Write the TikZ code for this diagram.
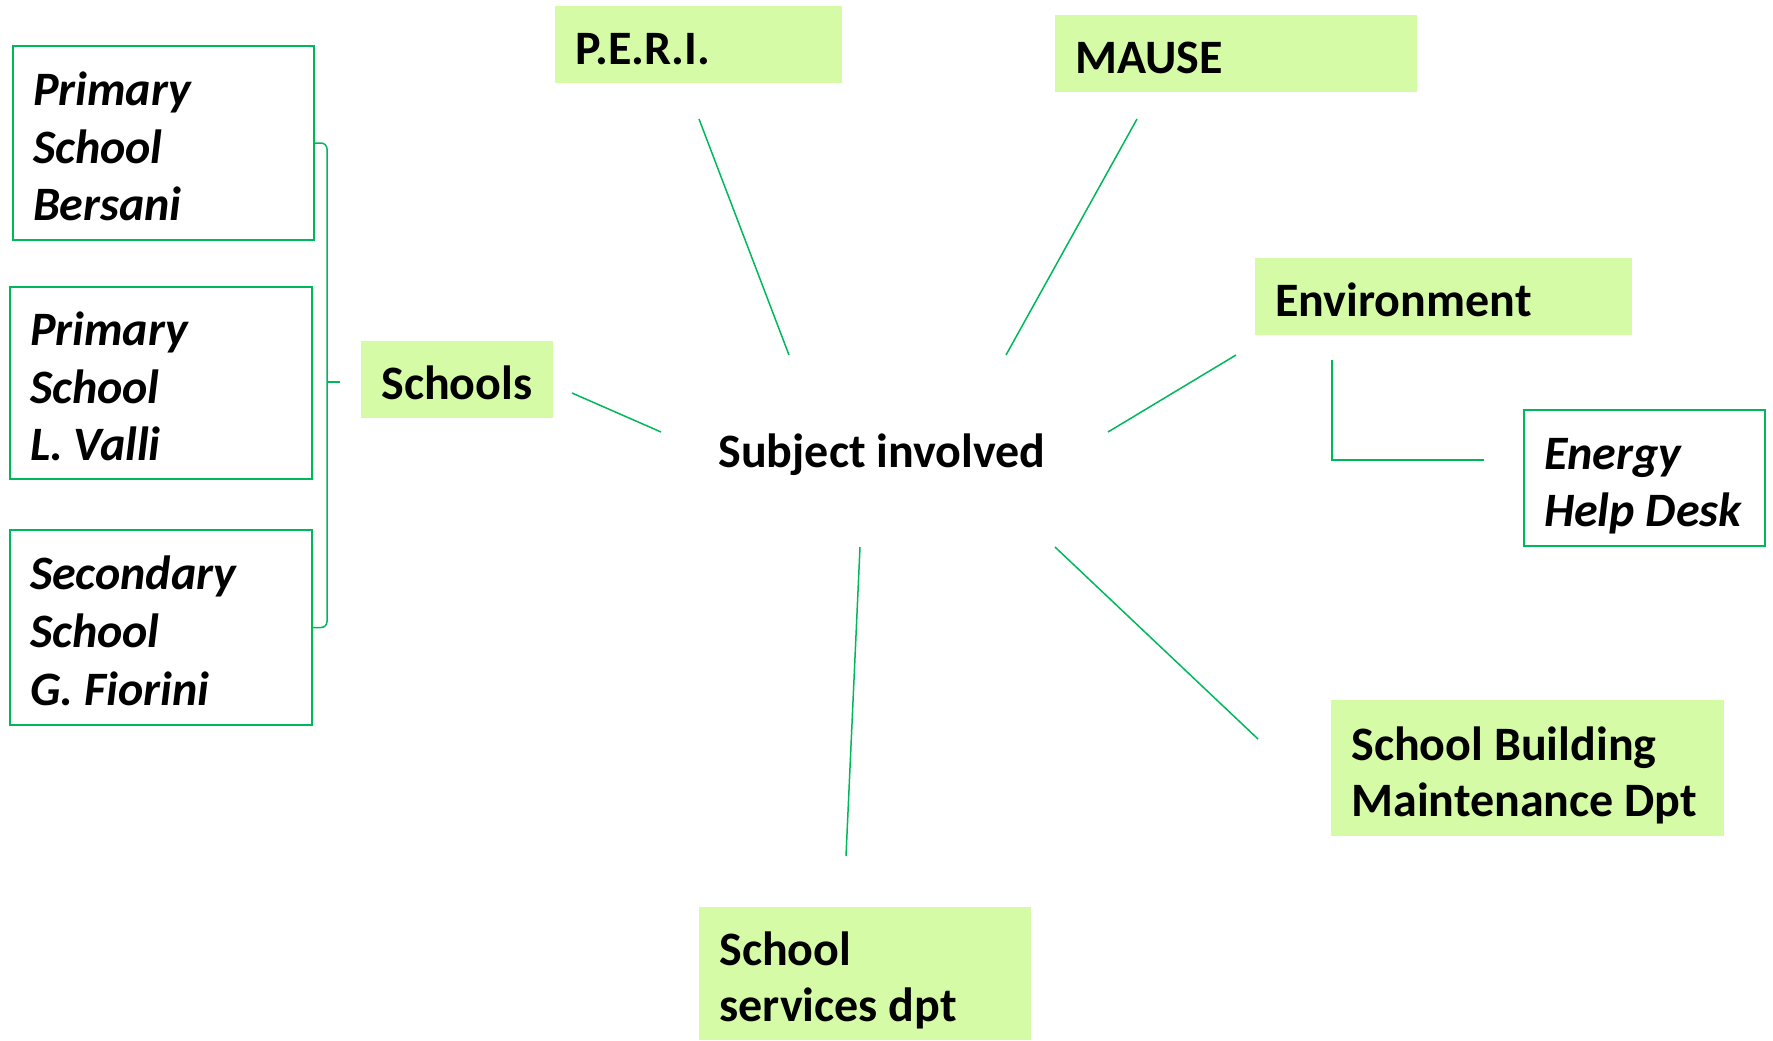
\documentclass[tikz,border=0pt]{standalone}
\usepackage{fontspec}
\setmainfont{Carlito}
\frenchspacing
\definecolor{boxgreen}{RGB}{214,251,167}
\definecolor{linegreen}{RGB}{0,184,92}
\newcommand\topstrut{\spaceskip=0pt\xspaceskip=0pt\vrule width 0pt height 26pt depth 0pt\relax}
\newcommand\botstrut{\vrule width 0pt height 0pt depth 6pt\relax}
\begin{document}
\begin{tikzpicture}[x=0.5pt,y=-0.5pt,
    every node/.style={font=\fontsize{24}{28}\selectfont\bfseries,
      execute at begin node=\topstrut, execute at end node=\botstrut},
    actor/.style={fill=boxgreen,anchor=north west,align=left,inner xsep=10pt,inner ysep=0pt},
    school/.style={draw=linegreen,line width=1pt,fill=white,anchor=north west,align=left,
      inner xsep=10pt,inner ysep=0pt,font=\fontsize{24}{28.8}\selectfont\bfseries\itshape},
    link/.style={draw=linegreen,line width=0.75pt}]
  \useasboundingbox (0,0) rectangle (1773,1040);
  % subjects
  \node (subj) at (882,447) {Subject involved};
  \node[actor,minimum width=143.5pt,minimum height=38.5pt,text width=123.5pt] (peri) at (555,6) {P.E.R.I.};
  \node[actor,minimum width=181pt,minimum height=38.5pt,text width=161pt] (mause) at (1055,15) {MAUSE};
  \node[actor,minimum width=188.5pt,minimum height=38.5pt,text width=168.5pt] (env) at (1255,258) {Environment};
  \node[actor,minimum width=96pt,minimum height=38.5pt,text width=76pt] (schools) at (361,341) {Schools};
  \node[actor,minimum width=196.5pt,minimum height=68pt,text width=176.5pt] (maint) at (1331,700) {School Building\\Maintenance Dpt};
  \node[actor,minimum width=166pt,minimum height=66.5pt,text width=146pt] (serv) at (699,907) {School\\services dpt};
  % schools
  \node[school,minimum width=150.5pt,minimum height=97pt,text width=130.5pt] (bersani) at (12,45) {Primary\\School\\Bersani};
  \node[school,minimum width=151pt,minimum height=96pt,text width=131pt] (valli) at (9,286) {Primary\\School\\L. Valli};
  \node[school,minimum width=151pt,minimum height=97.5pt,text width=131pt] (fiorini) at (9,529) {Secondary\\School\\G. Fiorini};
  \node[school,minimum width=120.5pt,minimum height=68pt,text width=100.5pt,inner xsep=9.5pt] (energy) at (1523,409) {Energy\\Help~Desk};
  % line ends
  \coordinate (schools-e) at (572,393);   \coordinate (subj-w) at (661,432);
  \coordinate (peri-s) at (699,119);      \coordinate (subj-nw) at (789,355);
  \coordinate (mause-s) at (1137,119);    \coordinate (subj-ne) at (1006,355);
  \coordinate (env-w) at (1236,355);      \coordinate (subj-e) at (1108,432);
  \coordinate (serv-n) at (846,856);      \coordinate (subj-s) at (860,547);
  \coordinate (maint-w) at (1258,739);    \coordinate (subj-se) at (1055,547);
  \coordinate (env-s) at (1332,360);      \coordinate (energy-w) at (1484,460);
  \coordinate (brace) at (327,382);
  \draw[link] (schools-e) -- (subj-w);
  \draw[link] (peri-s) -- (subj-nw);
  \draw[link] (mause-s) -- (subj-ne);
  \draw[link] (env-w) -- (subj-e);
  \draw[link] (subj-s) -- (serv-n);
  \draw[link] (subj-se) -- (maint-w);
  \draw[link] (env-s) |- (energy-w);
  \draw[link,rounded corners=3pt] (bersani.east) -| (brace) |- (fiorini.east);
  \draw[link] (brace) -- ++(13,0);
\end{tikzpicture}
\end{document}
